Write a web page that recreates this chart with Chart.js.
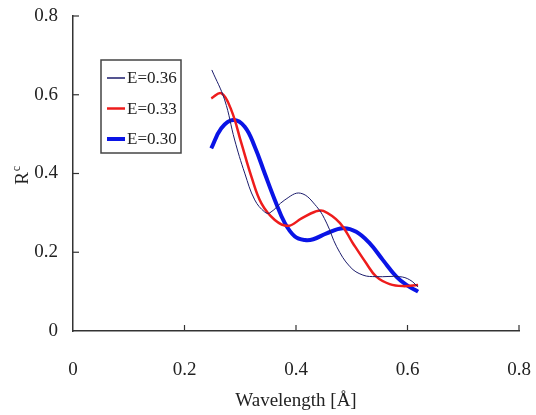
<!DOCTYPE html>
<html>
<head>
<meta charset="utf-8">
<script src="https://cdn.jsdelivr.net/npm/chart.js@4.4.0/dist/chart.umd.min.js"></script>
<style>
  html, body { margin: 0; padding: 0; background: #fff; }
  #wrap { width: 536px; height: 415px; }
</style>
</head>
<body>
<div id="wrap"><canvas id="myChart" width="536" height="415"></canvas></div>
<script>
// Data
var seriesLabels = ['E=0.36', 'E=0.33', 'E=0.30'];

var wl36 = [0.249, 0.272, 0.290, 0.308, 0.326, 0.344, 0.353, 0.380, 0.408, 0.437, 0.455, 0.473, 0.497, 0.520, 0.544, 0.586, 0.604, 0.619];
var rc36 = [0.663, 0.587, 0.485, 0.401, 0.333, 0.302, 0.300, 0.333, 0.350, 0.316, 0.274, 0.214, 0.163, 0.142, 0.138, 0.138, 0.130, 0.112];

var wl33 = [0.248, 0.266, 0.284, 0.302, 0.320, 0.338, 0.362, 0.386, 0.410, 0.434, 0.449, 0.479, 0.502, 0.526, 0.544, 0.568, 0.592, 0.619];
var rc33 = [0.591, 0.604, 0.561, 0.477, 0.392, 0.324, 0.282, 0.267, 0.286, 0.303, 0.305, 0.274, 0.223, 0.172, 0.138, 0.119, 0.114, 0.117];

var wl30 = [0.248, 0.266, 0.287, 0.308, 0.326, 0.344, 0.362, 0.380, 0.398, 0.416, 0.431, 0.455, 0.484, 0.508, 0.532, 0.556, 0.580, 0.598, 0.619];
var rc30 = [0.464, 0.515, 0.536, 0.519, 0.468, 0.400, 0.333, 0.274, 0.240, 0.231, 0.233, 0.248, 0.261, 0.252, 0.223, 0.180, 0.138, 0.117, 0.100];

var xTickLabels = ['0', '0.2', '0.4', '0.6', '0.8'];
var yTickLabels = ['0', '0.2', '0.4', '0.6', '0.8'];

var seriesColors = ['#1c1c6c', '#ee1c1c', '#0a14e6'];
var seriesWidths = [1, 2.5, 4];

function toPoints(xs, ys) {
  return xs.map(function (x, i) { return { x: x, y: ys[i] }; });
}

var FONT = "'Liberation Serif', 'Times New Roman', serif";

// ticks drawn inside the axes, like the original
var innerTicks = {
  id: 'innerTicks',
  afterDraw: function (chart) {
    var ctx = chart.ctx, a = chart.chartArea;
    ctx.save();
    ctx.strokeStyle = '#333';
    ctx.lineWidth = 1.2;
    chart.scales.x.ticks.forEach(function (t) {
      if (t.value === 0) return;
      var px = chart.scales.x.getPixelForValue(t.value);
      ctx.beginPath(); ctx.moveTo(px, a.bottom); ctx.lineTo(px, a.bottom - 6); ctx.stroke();
    });
    chart.scales.y.ticks.forEach(function (t) {
      if (t.value === 0) return;
      var py = chart.scales.y.getPixelForValue(t.value);
      ctx.beginPath(); ctx.moveTo(a.left, py); ctx.lineTo(a.left + 6, py); ctx.stroke();
    });
    ctx.restore();
  }
};

// boxed legend inside the plot, top left
var boxLegend = {
  id: 'boxLegend',
  afterDraw: function (chart) {
    var ctx = chart.ctx, a = chart.chartArea;
    var bx = a.left + 28, by = a.top + 44, bw = 80, bh = 93;
    ctx.save();
    ctx.fillStyle = '#fff';
    ctx.fillRect(bx, by, bw, bh);
    ctx.strokeStyle = '#444';
    ctx.lineWidth = 1.5;
    ctx.strokeRect(bx, by, bw, bh);
    ctx.font = '17px ' + FONT;
    ctx.textBaseline = 'middle';
    ctx.fillStyle = '#222';
    chart.data.datasets.forEach(function (ds, i) {
      var yy = by + 18 + i * 30.5;
      ctx.strokeStyle = ds.borderColor;
      ctx.lineWidth = Math.max(ds.borderWidth, 1.5);
      ctx.beginPath(); ctx.moveTo(bx + 6, yy); ctx.lineTo(bx + 24, yy); ctx.stroke();
      ctx.fillText(ds.label, bx + 26, yy + 1);
    });
    ctx.restore();
  }
};

// rotated R with superscript c
var yTitle = {
  id: 'yTitle',
  afterDraw: function (chart) {
    var ctx = chart.ctx, a = chart.chartArea;
    var cy = (a.top + a.bottom) / 2 + 2;
    ctx.save();
    ctx.translate(28, cy);
    ctx.rotate(-Math.PI / 2);
    ctx.fillStyle = '#222';
    ctx.textBaseline = 'alphabetic';
    ctx.font = '19px ' + FONT;
    var w = ctx.measureText('R').width;
    ctx.fillText('R', -w / 2 - 3, 0);
    ctx.font = '12px ' + FONT;
    ctx.fillText('c', w / 2 - 2, -8);
    ctx.restore();
  }
};

var ctx = document.getElementById('myChart').getContext('2d');
var myChart = new Chart(ctx, {
  type: 'line',
  data: {
    datasets: [
      { label: seriesLabels[0], data: toPoints(wl36, rc36) },
      { label: seriesLabels[1], data: toPoints(wl33, rc33) },
      { label: seriesLabels[2], data: toPoints(wl30, rc30) }
    ].map(function (ds, i) {
      ds.borderColor = seriesColors[i];
      ds.borderWidth = seriesWidths[i];
      ds.pointRadius = 0;
      ds.fill = false;
      ds.tension = 0.4;
      return ds;
    })
  },
  options: {
    responsive: false,
    animation: false,
    layout: { padding: { left: 0, right: 17, top: 16, bottom: 0 } },
    plugins: {
      legend: { display: false },
      tooltip: { enabled: false }
    },
    scales: {
      x: {
        type: 'linear',
        min: 0, max: 0.8,
        afterFit: function (s) {
          s.height = 84;
          s.paddingLeft = 0; s.paddingRight = 0;
        },
        grid: { display: true, drawOnChartArea: false, drawTicks: false },
        border: { display: true, color: '#333', width: 1.5 },
        ticks: {
          stepSize: 0.2,
          padding: 28,
          color: '#222',
          font: { family: FONT, size: 19 },
          callback: function (v, i) { return xTickLabels[i]; }
        },
        title: {
          display: true,
          text: 'Wavelength [Å]',
          color: '#222',
          font: { family: FONT, size: 19 },
          padding: { top: 0, bottom: 3 }
        }
      },
      y: {
        type: 'linear',
        min: 0, max: 0.8,
        afterFit: function (s) {
          s.width = 73;
          s.paddingTop = 0; s.paddingBottom = 0;
        },
        grid: { display: true, drawOnChartArea: false, drawTicks: false },
        border: { display: true, color: '#333', width: 1.5 },
        ticks: {
          stepSize: 0.2,
          padding: 15,
          color: '#222',
          font: { family: FONT, size: 19 },
          callback: function (v, i) { return yTickLabels[i]; }
        }
      }
    }
  },
  plugins: [innerTicks, boxLegend, yTitle]
});
</script>
</body>
</html>
